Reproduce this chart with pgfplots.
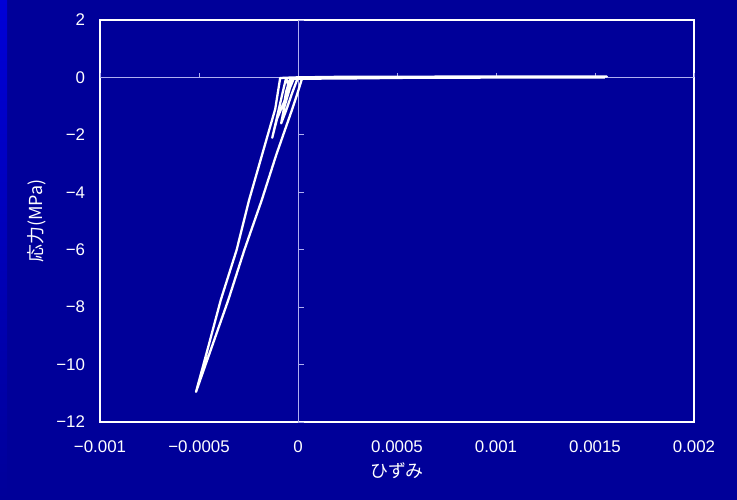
\documentclass[border=0pt]{standalone}
\usepackage{fontspec}
\setmainfont{Liberation Sans}
\newfontfamily\jp{Noto Sans CJK JP}
\usepackage{pgfplots}
\pgfplotsset{compat=1.18}
\definecolor{bg}{RGB}{0,0,153}
\definecolor{strip}{RGB}{0,0,215}
\definecolor{zeroline}{RGB}{175,175,240}

\begin{document}
\begin{tikzpicture}
\fill[bg] (0,0) rectangle (14.74cm,10cm);
\shade[top color=strip, bottom color=bg] (0,0) rectangle (0.14cm,10cm);
\useasboundingbox (0,0) rectangle (14.74cm,10cm);
\begin{axis}[
  at={(2cm,1.56cm)}, anchor=south west,
  width=11.88cm, height=8.04cm, scale only axis,
  xmin=-0.001, xmax=0.002, ymin=-12, ymax=2,
  axis line style={white, line width=0.9pt},
  scaled x ticks=false,
  xtick={-0.001,-0.0005,0,0.0005,0.001,0.0015,0.002},
  xticklabels={−0.001,−0.0005,0,0.0005,0.001,0.0015,0.002},
  ytick={-12,-10,-8,-6,-4,-2,0,2},
  yticklabels={−12,−10,−8,−6,−4,−2,0,2},
  major tick length=0pt,
  tick label style={white, font=\fontsize{9.6}{11}\selectfont},
  xticklabel style={yshift=-7pt},
  yticklabel style={xshift=-5pt},
  clip=false,
]
% centre lines and their ticks
\draw[zeroline, line width=0.5pt] (axis cs:0,-12) -- (axis cs:0,2);
\draw[zeroline, line width=0.5pt] (axis cs:-0.001,0) -- (axis cs:0.002,0);
\pgfplotsinvokeforeach{-12,-10,-8,-6,-4,-2,2}{
  \draw[zeroline, line width=0.5pt] (axis cs:0,#1) -- (axis cs:0.00003,#1);
}
\pgfplotsinvokeforeach{-0.001,-0.0005,0.0005,0.001,0.0015,0.002}{
  \draw[zeroline, line width=0.5pt] (axis cs:#1,0) -- (axis cs:#1,0.17);
}

% stress-strain record
\addplot[white, line width=1.3pt, line join=round, mark=none] coordinates {
  (0,0)
  (-0.00003,-0.55)
  (-0.00006,-1.15)
  (-0.000085,-1.6)
  (-0.00007,-1.05)
  (-0.00004,-0.35)
  (-0.00002,-0.02)
  (0.0002,-0.04)
  (0.0006,-0.01)
  (0.0011,0.02)
  (0.0004,0.02)
  (0.00003,-0.03)
  (-0.00003,-0.05)
  (-0.00007,-0.85)
  (-0.000106,-1.44)
  (-0.00013,-2.1)
  (-0.00011,-1.5)
  (-0.00008,-0.6)
  (-0.00006,-0.02)
  (-0.00005,-0.25)
  (-0.00007,-0.9)
  (-0.00006,-0.5)
  (-0.00004,-0.05)
  (0.0003,-0.02)
  (0.00156,0.03)
  (0.0009,0.03)
  (0.0002,0.02)
  (-0.00002,0)
  (-0.00009,-0.02)
  (-0.000115,-1.1)
  (-0.00019,-2.9)
  (-0.000247,-4.27)
  (-0.00031,-6.01)
  (-0.00039,-7.75)
  (-0.00045,-9.3)
  (-0.000515,-10.95)
  (-0.000431,-9.3)
  (-0.000352,-7.75)
  (-0.000271,-6.01)
  (-0.000183,-4.27)
  (-0.00011,-2.7)
  (-0.000031,-1.14)
  (-0.000005,-0.6)
  (0.00002,-0.05)
  (0.00025,-0.03)
  (0.0006,-0.01)
  (0.00155,0)
};
\end{axis}
\node[white, font=\jp\fontsize{10.2}{12}\selectfont] at (7.94cm,0.58cm) {ひずみ};
\node[white, rotate=90, font=\jp\fontsize{10.2}{12}\selectfont] at (0.74cm,5.58cm) {応力(MPa)};
\end{tikzpicture}
\end{document}
